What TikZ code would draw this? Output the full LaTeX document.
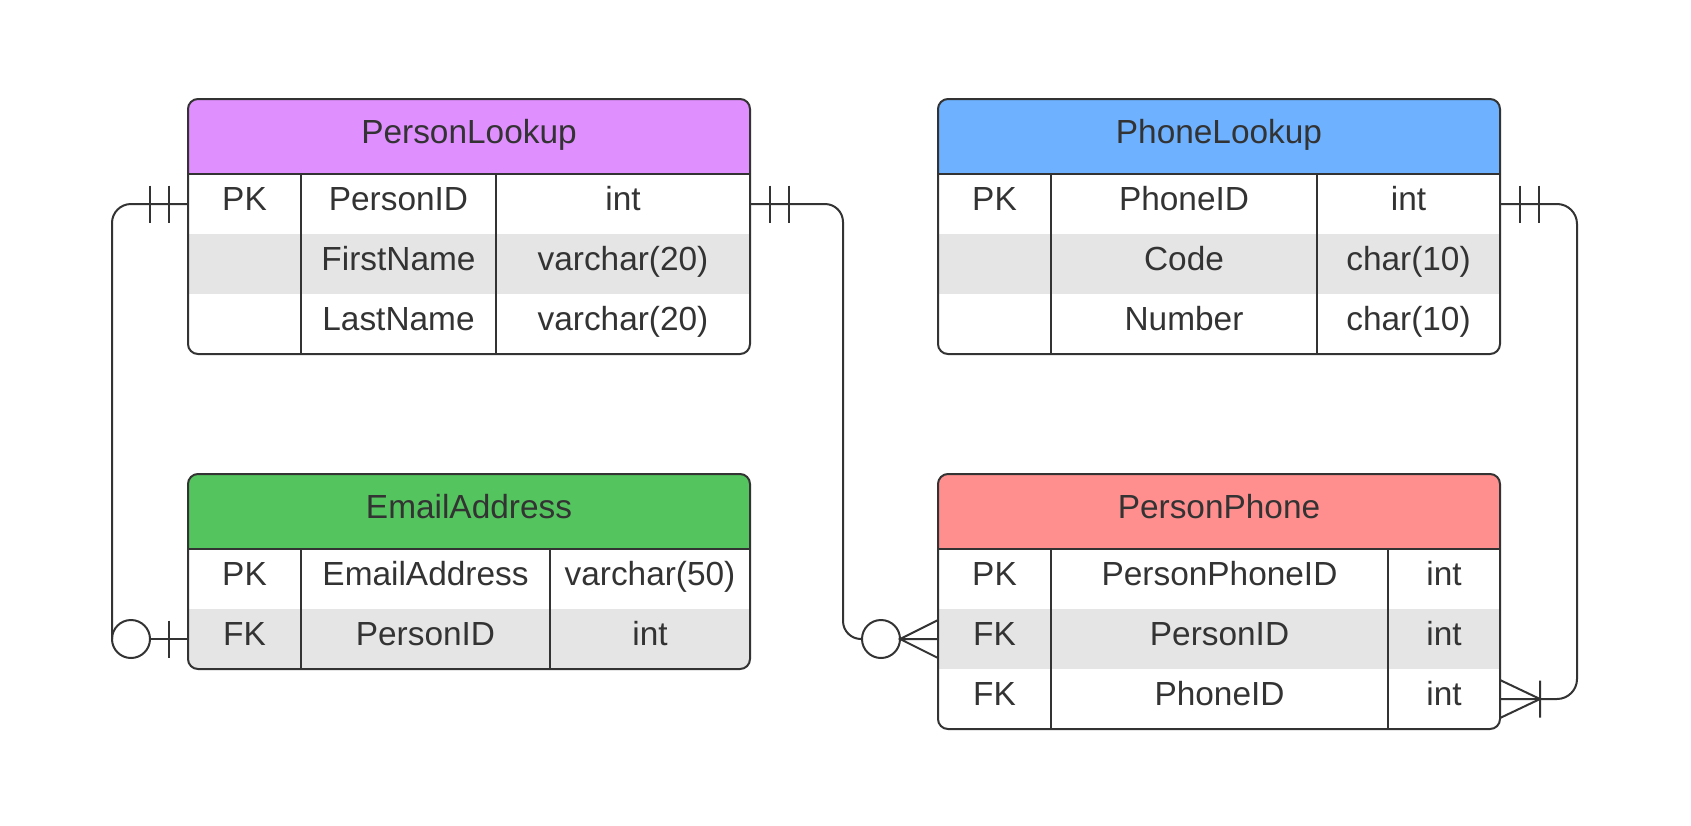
\documentclass[tikz,border=0pt]{standalone}
\usepackage{fontspec}
\setmainfont{Liberation Sans}
\usepackage{tikz}
\usetikzlibrary{calc}
\definecolor{ink}{HTML}{333333}
\definecolor{rowgrey}{HTML}{E5E5E5}
\definecolor{plcol}{HTML}{E08FFF}
\definecolor{phcol}{HTML}{6DB1FF}
\definecolor{eacol}{HTML}{54C45E}
\definecolor{ppcol}{HTML}{FF8F8F}
\newcommand{\erfont}{\fontsize{16.7}{20}\selectfont}

\begin{document}
\begin{tikzpicture}[x=0.5pt, y=-0.5pt,
	cell/.style={anchor=north west, inner sep=0pt, outer sep=0pt, minimum height=30pt,
		text=ink, font=\erfont, text height=11pt, text depth=4.3pt},
	head/.style={cell, minimum height=37.5pt, minimum width=281pt},
	tblframe/.style={draw=ink, line width=1pt, rounded corners=5pt},
	divider/.style={draw=ink, line width=1pt},
	conn/.style={draw=ink, line width=1pt}]
	\useasboundingbox (0,0) rectangle (1691,825);
%
	% PersonLookup
	\begin{scope}
		\clip[rounded corners=5pt] (188,99) rectangle ++(562,255);
		\fill[rowgrey] (188,234) rectangle ++(562,60);
		\node[head, fill=plcol] (pl-h) at (188,99) {PersonLookup};
		\node[cell, minimum width=56.5pt] (pl-k1) at (188,174) {PK};
		\node[cell, minimum width=97.5pt] (pl-n1) at (301,174) {PersonID};
		\node[cell, minimum width=127pt] (pl-t1) at (496,174) {int};
		\node[cell, minimum width=97.5pt] (pl-n2) at (301,234) {FirstName};
		\node[cell, minimum width=127pt] (pl-t2) at (496,234) {varchar(20)};
		\node[cell, minimum width=97.5pt] (pl-n3) at (301,294) {LastName};
		\node[cell, minimum width=127pt] (pl-t3) at (496,294) {varchar(20)};
	\end{scope}
	\draw[divider] (pl-h.south west) -- (pl-h.south east)
		(pl-n1.north west) -- (pl-n3.south west)
		(pl-t1.north west) -- (pl-t3.south west);
	\draw[tblframe] (pl-h.north west) rectangle (pl-t3.south east);
%
	% PhoneLookup
	\begin{scope}
		\clip[rounded corners=5pt] (938,99) rectangle ++(562,255);
		\fill[rowgrey] (938,234) rectangle ++(562,60);
		\node[head, fill=phcol] (ph-h) at (938,99) {PhoneLookup};
		\node[cell, minimum width=56.5pt] (ph-k1) at (938,174) {PK};
		\node[cell, minimum width=133pt] (ph-n1) at (1051,174) {PhoneID};
		\node[cell, minimum width=91.5pt] (ph-t1) at (1317,174) {int};
		\node[cell, minimum width=133pt] (ph-n2) at (1051,234) {Code};
		\node[cell, minimum width=91.5pt] (ph-t2) at (1317,234) {char(10)};
		\node[cell, minimum width=133pt] (ph-n3) at (1051,294) {Number};
		\node[cell, minimum width=91.5pt] (ph-t3) at (1317,294) {char(10)};
	\end{scope}
	\draw[divider] (ph-h.south west) -- (ph-h.south east)
		(ph-n1.north west) -- (ph-n3.south west)
		(ph-t1.north west) -- (ph-t3.south west);
	\draw[tblframe] (ph-h.north west) rectangle (ph-t3.south east);
%
	% EmailAddress
	\begin{scope}
		\clip[rounded corners=5pt] (188,474) rectangle ++(562,195);
		\fill[rowgrey] (188,609) rectangle ++(562,60);
		\node[head, fill=eacol] (ea-h) at (188,474) {EmailAddress};
		\node[cell, minimum width=56.5pt] (ea-k1) at (188,549) {PK};
		\node[cell, minimum width=124.5pt] (ea-n1) at (301,549) {EmailAddress};
		\node[cell, minimum width=100pt] (ea-t1) at (550,549) {varchar(50)};
		\node[cell, minimum width=56.5pt] (ea-k2) at (188,609) {FK};
		\node[cell, minimum width=124.5pt] (ea-n2) at (301,609) {PersonID};
		\node[cell, minimum width=100pt] (ea-t2) at (550,609) {int};
	\end{scope}
	\draw[divider] (ea-h.south west) -- (ea-h.south east)
		(ea-n1.north west) -- (ea-n2.south west)
		(ea-t1.north west) -- (ea-t2.south west);
	\draw[tblframe] (ea-h.north west) rectangle (ea-t2.south east);
%
	% PersonPhone
	\begin{scope}
		\clip[rounded corners=5pt] (938,474) rectangle ++(562,255);
		\fill[rowgrey] (938,609) rectangle ++(562,60);
		\node[head, fill=ppcol] (pp-h) at (938,474) {PersonPhone};
		\node[cell, minimum width=56.5pt] (pp-k1) at (938,549) {PK};
		\node[cell, minimum width=168.5pt] (pp-n1) at (1051,549) {PersonPhoneID};
		\node[cell, minimum width=56pt] (pp-t1) at (1388,549) {int};
		\node[cell, minimum width=56.5pt] (pp-k2) at (938,609) {FK};
		\node[cell, minimum width=168.5pt] (pp-n2) at (1051,609) {PersonID};
		\node[cell, minimum width=56pt] (pp-t2) at (1388,609) {int};
		\node[cell, minimum width=56.5pt] (pp-k3) at (938,669) {FK};
		\node[cell, minimum width=168.5pt] (pp-n3) at (1051,669) {PhoneID};
		\node[cell, minimum width=56pt] (pp-t3) at (1388,669) {int};
	\end{scope}
	\draw[divider] (pp-h.south west) -- (pp-h.south east)
		(pp-n1.north west) -- (pp-n3.south west)
		(pp-t1.north west) -- (pp-t3.south west);
	\draw[tblframe] (pp-h.north west) rectangle (pp-t3.south east);
%
	% PersonLookup -- EmailAddress
	\draw[conn, rounded corners=9.5pt] (pl-k1.west) -- ++(-76,0) -- ($(ea-k2.west)+(-76,0)$);
	\draw[conn] ($(ea-k2.west)+(-57,0)$) circle[radius=9.5pt];
	\draw[conn] ($(ea-k2.west)+(-38,0)$) -- (ea-k2.west);
	\draw[conn] ($(pl-k1.west)+(-19,-18.5)$) -- ++(0,37)
		($(pl-k1.west)+(-38,-18.5)$) -- ++(0,37)
		($(ea-k2.west)+(-19,-18.5)$) -- ++(0,37);
%
	% PersonLookup -- PersonPhone
	\draw[conn, rounded corners=9pt] (pl-t1.east) -| ($(pp-k2.west)+(-95,0)$) -- ($(pp-k2.west)+(-76,0)$);
	\draw[conn] ($(pp-k2.west)+(-57,0)$) circle[radius=9.5pt];
	\draw[conn] ($(pp-k2.west)+(0,-19)$) -- ($(pp-k2.west)+(-38,0)$) -- ($(pp-k2.west)+(0,19)$)
		($(pp-k2.west)+(-38,0)$) -- (pp-k2.west);
	\draw[conn] ($(pl-t1.east)+(20,-18.5)$) -- ++(0,37)
		($(pl-t1.east)+(39,-18.5)$) -- ++(0,37);
%
	% PhoneLookup -- PersonPhone
	\draw[conn, rounded corners=10pt] (ph-t1.east) -| ($(pp-t3.east)+(77,0)$) -- (pp-t3.east);
	\draw[conn] ($(ph-t1.east)+(20,-18.5)$) -- ++(0,37)
		($(ph-t1.east)+(39,-18.5)$) -- ++(0,37);
	\draw[conn] ($(pp-t3.east)+(0,-19)$) -- ($(pp-t3.east)+(40,0)$) -- ($(pp-t3.east)+(0,19)$)
		($(pp-t3.east)+(40,-18.5)$) -- ++(0,37);
\end{tikzpicture}
\end{document}
